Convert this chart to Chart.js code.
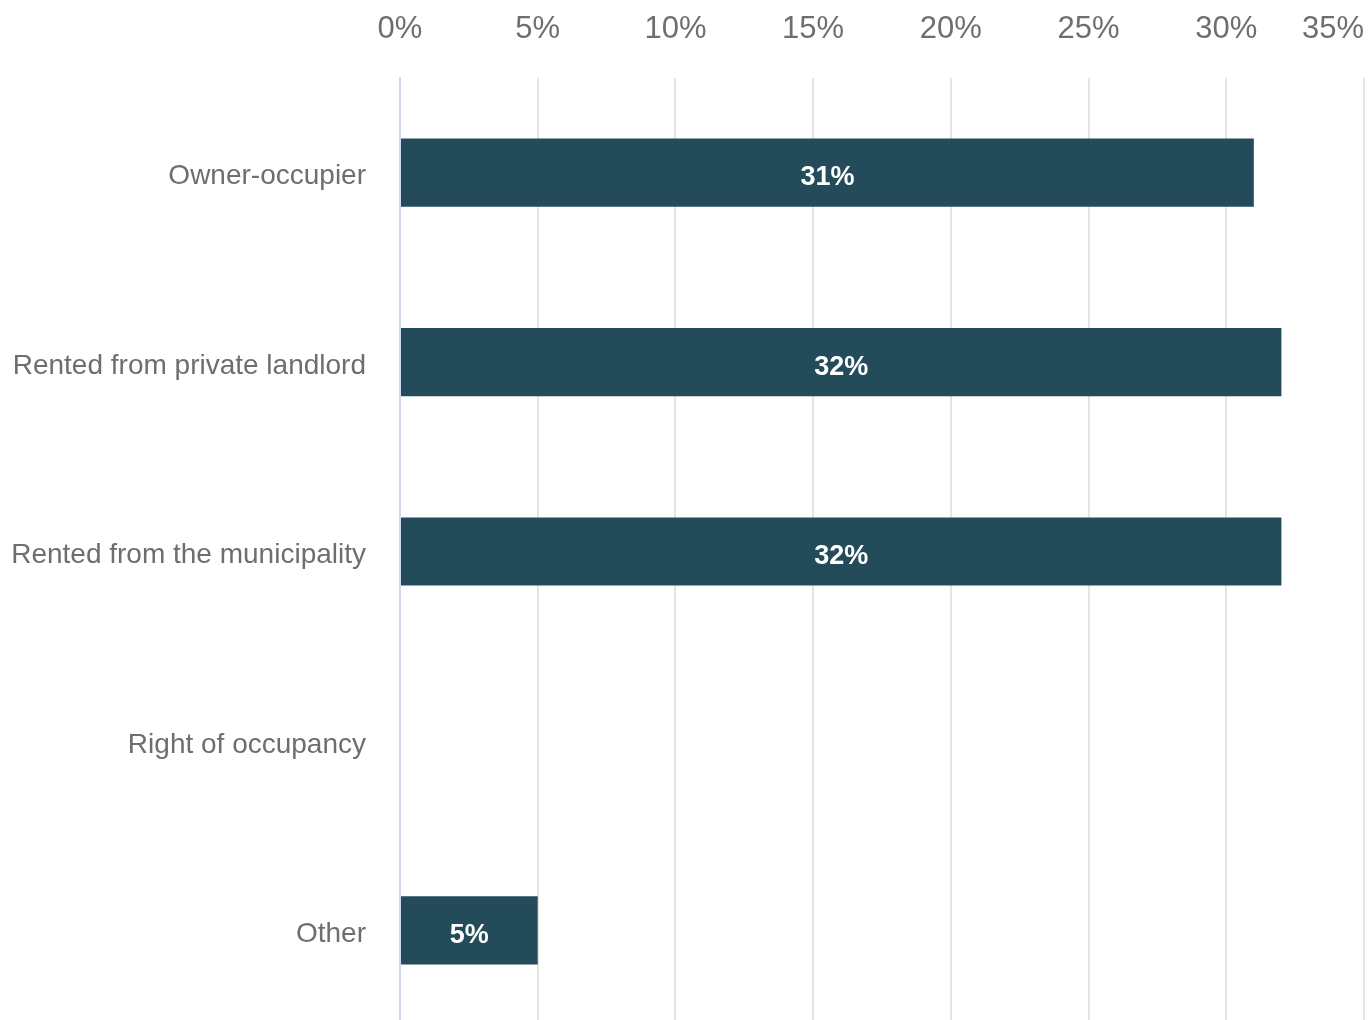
<!DOCTYPE html>
<html>
<head>
<meta charset="utf-8">
<script src="https://cdn.jsdelivr.net/npm/chart.js@4.4.1/dist/chart.umd.min.js"></script>
<style>
  html, body { margin: 0; padding: 0; background: #fff; overflow: hidden; }
  #wrap { width: 1369px; height: 1025px; }
</style>
</head>
<body>
<div id="wrap"><canvas id="chart"></canvas></div>
<script>
const categories = ['Owner-occupier', 'Rented from private landlord', 'Rented from the municipality', 'Right of occupancy', 'Other'];
const shares = [31, 32, 32, 0, 5];
const xMax = 35;
const xStep = 5;

const barColor = '#234b59';
const tickColor = '#6e6e6e';
const fontFamily = '"Liberation Sans", Arial, sans-serif';

// draws the value inside each bar
const barLabels = {
  id: 'barLabels',
  afterDatasetsDraw(chart) {
    const ctx = chart.ctx;
    const meta = chart.getDatasetMeta(0);
    ctx.save();
    ctx.fillStyle = '#ffffff';
    ctx.font = 'bold 27px ' + fontFamily;
    ctx.textAlign = 'center';
    ctx.textBaseline = 'middle';
    meta.data.forEach((bar, i) => {
      const v = shares[i];
      if (!v) return;
      const mid = (bar.x + bar.base) / 2;
      ctx.fillText(v + '%', mid, bar.y + 5);
    });
    ctx.restore();
  }
};

// first x tick label centered, last one right aligned; category labels a bit lower
const tickAlign = {
  id: 'tickAlign',
  beforeDraw(chart) {
    const items = chart.scales.x.getLabelItems();
    if (items.length) {
      items[0].options.textAlign = 'center';
      items[items.length - 1].options.textAlign = 'right';
    }
    chart.scales.y.getLabelItems().forEach(it => {
      if (!it._moved) { it.options.translation[1] += 4; it._moved = true; }
    });
  }
};

new Chart(document.getElementById('chart'), {
  type: 'bar',
  data: {
    labels: categories,
    datasets: [{
      data: shares,
      backgroundColor: barColor,
      borderWidth: 0,
      categoryPercentage: 1,
      barPercentage: 0.36
    }]
  },
  options: {
    indexAxis: 'y',
    responsive: true,
    maintainAspectRatio: false,
    animation: false,
    layout: { padding: { left: 0, right: 5, top: 0, bottom: 0 } },
    plugins: {
      legend: { display: false },
      tooltip: { enabled: false }
    },
    scales: {
      x: {
        position: 'top',
        min: 0,
        max: xMax,
        ticks: {
          stepSize: xStep,
          align: 'inner',
          padding: 30,
          color: tickColor,
          font: { family: fontFamily, size: 31 },
          callback: v => v + '%'
        },
        grid: {
          drawTicks: false,
          color: ctx => ctx.index === 0 ? '#cfd8ee' : '#e4e4e4',
          lineWidth: 2
        },
        border: { display: false },
        afterFit: s => { s.height = 78; s.paddingLeft = 0; s.paddingRight = 0; }
      },
      y: {
        ticks: {
          padding: 34,
          color: tickColor,
          font: { family: fontFamily, size: 28 }
        },
        grid: { display: false, drawTicks: false },
        border: { display: true, color: '#cfd8ee', width: 2 },
        afterFit: s => { s.width = 400; s.paddingTop = 0; s.paddingBottom = 0; }
      }
    }
  },
  plugins: [barLabels, tickAlign]
});
</script>
</body>
</html>
